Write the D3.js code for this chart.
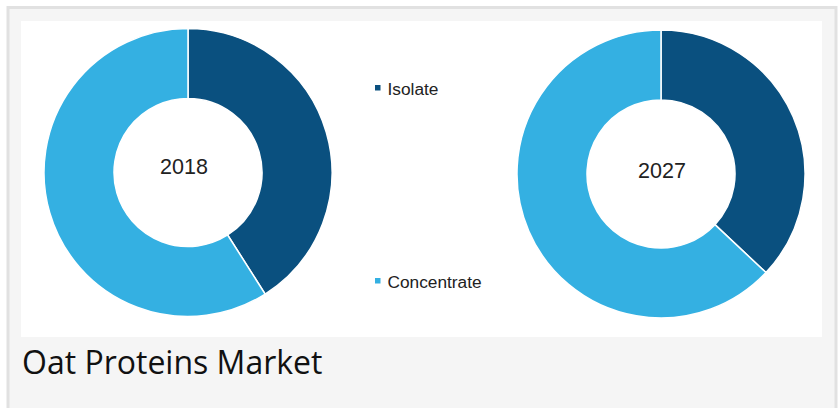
<!DOCTYPE html>
<html>
<head>
<meta charset="utf-8">
<script src="https://cdn.jsdelivr.net/npm/d3@7"></script>
<style>
  html, body { margin: 0; padding: 0; background: #fff; }
  svg { display: block; }
</style>
</head>
<body>
<svg id="chart" width="840" height="408"></svg>
<script>
// values (share in %)
const years = ['2018', '2027'];
const segments = ['Isolate', 'Concentrate'];
const isolate = [41, 37];
const concentrate = [59, 63];
const title = 'Oat Proteins Market';

const colors = d3.scaleOrdinal()
  .domain(segments)
  .range(['#0a507f', '#34b0e2']);

const svg = d3.select('#chart');

// outer card
svg.append('rect')
  .attr('x', 8).attr('y', 7.5)
  .attr('width', 828).attr('height', 420)
  .attr('fill', '#f5f5f5')
  .attr('stroke', '#e1e1e1')
  .attr('stroke-width', 3);

// white plot area
svg.append('rect')
  .attr('x', 21).attr('y', 21)
  .attr('width', 801).attr('height', 316)
  .attr('fill', '#fff');

const cx = d3.scalePoint().domain(years).range([188, 661]);
const cy = d3.scalePoint().domain(years).range([172.5, 174]);

const pie = d3.pie().sort(null).value(function (d) { return d.value; });
const arc = d3.arc().innerRadius(74).outerRadius(144);

years.forEach(function (yr, i) {
  let data = [
    { key: 'Isolate', value: isolate[i] },
    { key: 'Concentrate', value: concentrate[i] }
  ];
  let g = svg.append('g')
    .attr('transform', 'translate(' + cx(yr) + ',' + cy(yr) + ')');
  g.selectAll('path')
    .data(pie(data))
    .enter().append('path')
    .attr('d', arc)
    .attr('fill', function (d) { return colors(d.data.key); })
    .attr('stroke', '#fff')
    .attr('stroke-width', 1.5);
  g.append('text')
    .attr('x', i == 0 ? -4 : 1)
    .attr('y', i == 0 ? 1 : 3.5)
    .attr('text-anchor', 'middle')
    .style('font-family', '"Liberation Sans", Arial, sans-serif')
    .style('font-size', '21.5px')
    .style('fill', '#222')
    .text(yr);
});

// legend
const ly = d3.scalePoint().domain(segments).range([88, 281]);
const legend = svg.selectAll('.legend')
  .data(segments)
  .enter().append('g')
  .attr('class', 'legend')
  .attr('transform', function (d) { return 'translate(375,' + ly(d) + ')'; });
legend.append('rect')
  .attr('x', 0).attr('y', -3)
  .attr('width', 5.5).attr('height', 5.5)
  .attr('fill', function (d) { return colors(d); });
legend.append('text')
  .attr('x', 12.5).attr('y', 7)
  .style('font-family', '"Liberation Sans", Arial, sans-serif')
  .style('font-size', '17.3px')
  .style('fill', '#222')
  .text(function (d) { return d; });

// caption
svg.append('text')
  .attr('x', 22).attr('y', 374)
  .style('font-family', '"Open Sans", sans-serif')
  .style('font-size', '32px')
  .style('fill', '#111')
  .text(title);
</script>
</body>
</html>
